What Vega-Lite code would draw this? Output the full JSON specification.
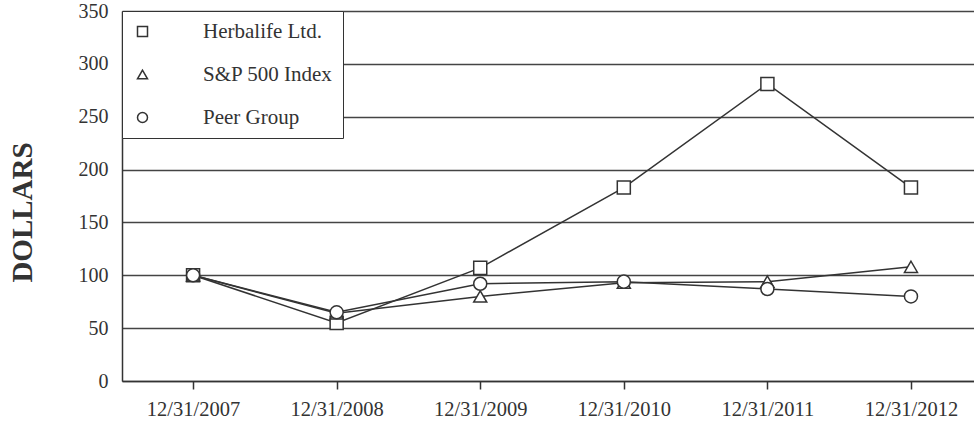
{
  "$schema": "https://vega.github.io/schema/vega-lite/v6.json",
  "width": 852,
  "height": 370,
  "autosize": {"type": "none"},
  "padding": {"left": 122, "top": 11, "right": 0, "bottom": 40},
  "background": "white",
  "config": {
    "view": {"stroke": null},
    "font": "Liberation Serif",
    "legend": {
      "orient": "none",
      "legendX": 0,
      "legendY": 0,
      "padding": 10,
      "strokeColor": "#333",
      "fillColor": "white",
      "labelFont": "Liberation Serif",
      "labelFontSize": 21,
      "labelColor": "#333",
      "labelOffset": 50,
      "rowPadding": 21
    }
  },
  "data": {
    "values": [
      {"date": "12/31/2007", "series": "Herbalife Ltd.", "value": 100},
      {"date": "12/31/2008", "series": "Herbalife Ltd.", "value": 55},
      {"date": "12/31/2009", "series": "Herbalife Ltd.", "value": 107},
      {"date": "12/31/2010", "series": "Herbalife Ltd.", "value": 183},
      {"date": "12/31/2011", "series": "Herbalife Ltd.", "value": 281},
      {"date": "12/31/2012", "series": "Herbalife Ltd.", "value": 183},
      {"date": "12/31/2007", "series": "S&P 500 Index", "value": 100},
      {"date": "12/31/2008", "series": "S&P 500 Index", "value": 64},
      {"date": "12/31/2009", "series": "S&P 500 Index", "value": 80},
      {"date": "12/31/2010", "series": "S&P 500 Index", "value": 93},
      {"date": "12/31/2011", "series": "S&P 500 Index", "value": 94},
      {"date": "12/31/2012", "series": "S&P 500 Index", "value": 108},
      {"date": "12/31/2007", "series": "Peer Group", "value": 100},
      {"date": "12/31/2008", "series": "Peer Group", "value": 65},
      {"date": "12/31/2009", "series": "Peer Group", "value": 92},
      {"date": "12/31/2010", "series": "Peer Group", "value": 94},
      {"date": "12/31/2011", "series": "Peer Group", "value": 87},
      {"date": "12/31/2012", "series": "Peer Group", "value": 80}
    ]
  },
  "encoding": {
    "x": {
      "field": "date",
      "type": "ordinal",
      "sort": null,
      "scale": {"type": "point", "padding": 0.467, "align": 0.53},
      "axis": {
        "title": null,
        "labelAngle": 0,
        "labelFont": "Liberation Serif",
        "labelFontSize": 20.5,
        "labelColor": "#333",
        "labelPadding": 10,
        "domainColor": "#333",
        "domainWidth": 1.5,
        "ticks": true,
        "tickSize": 8,
        "tickColor": "#333",
        "tickWidth": 1.5,
        "grid": false
      }
    },
    "y": {
      "field": "value",
      "type": "quantitative",
      "scale": {"domain": [0, 350], "nice": false},
      "axis": {
        "title": "DOLLARS",
        "titleFont": "Liberation Serif",
        "titleFontSize": 29,
        "titleFontWeight": "bold",
        "titleColor": "#333",
        "titleAngle": 270,
        "titleAlign": "center",
        "titleBaseline": "middle",
        "titleX": -100,
        "titleY": 201,
        "values": [0, 50, 100, 150, 200, 250, 300, 350],
        "labelFont": "Liberation Serif",
        "labelFontSize": 20,
        "labelColor": "#333",
        "labelPadding": 14,
        "ticks": false,
        "domainColor": "#333",
        "domainWidth": 1.5,
        "grid": true,
        "gridColor": "#444",
        "gridWidth": 1.5,
        "gridOpacity": 1
      }
    }
  },
  "layer": [
    {
      "mark": {"type": "line", "color": "#333", "strokeWidth": 1.5},
      "encoding": {"detail": {"field": "series", "type": "nominal"}}
    },
    {
      "mark": {"type": "point", "filled": false, "fill": "white", "strokeWidth": 1.5, "opacity": 1, "size": 170},
      "encoding": {
        "color": {
          "field": "series",
          "type": "nominal",
          "title": null,
          "scale": {"domain": ["Herbalife Ltd.", "S&P 500 Index", "Peer Group"], "range": ["#333333", "#333333", "#333333"]}
        },
        "shape": {
          "field": "series",
          "type": "nominal",
          "title": null,
          "scale": {"domain": ["Herbalife Ltd.", "S&P 500 Index", "Peer Group"], "range": ["square", "triangle-up", "circle"]}
        }
      }
    }
  ]
}
